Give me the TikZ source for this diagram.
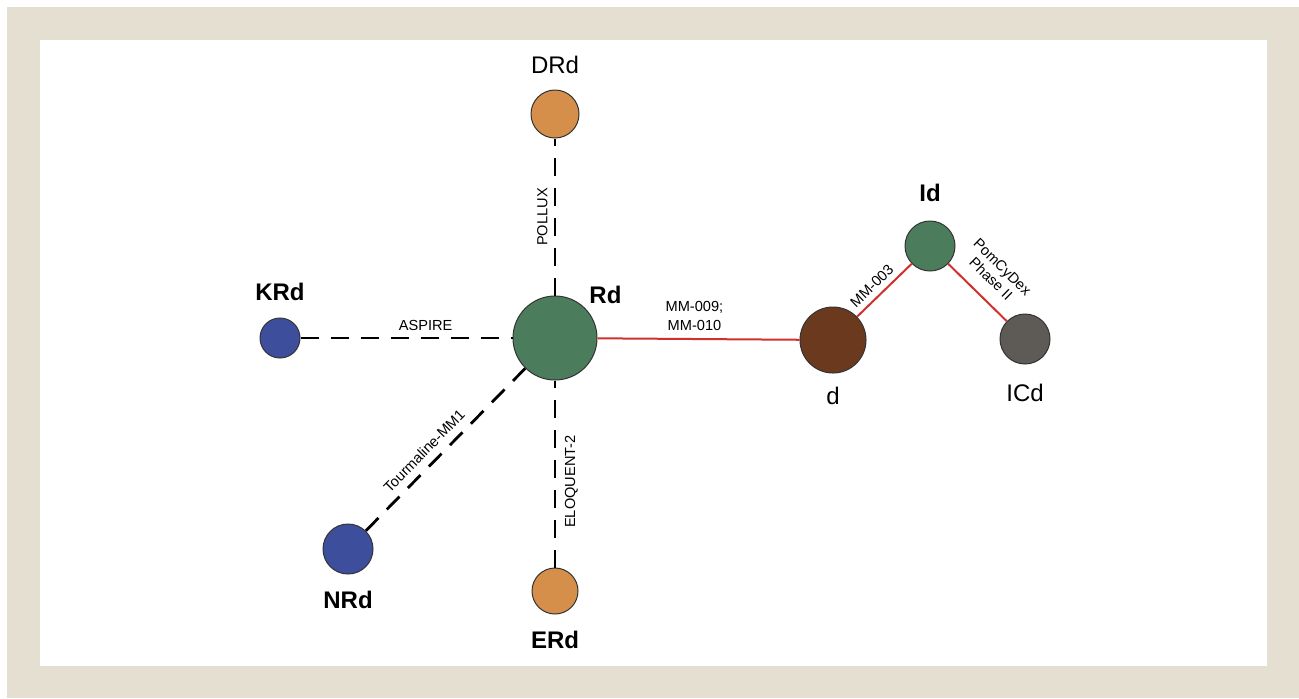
\documentclass[tikz,border=0pt]{standalone}
\usepackage{fontspec}
\setmainfont{Liberation Sans}
\usetikzlibrary{positioning}
\definecolor{framebeige}{RGB}{229,223,210}
\definecolor{studygreen}{RGB}{75,125,92}
\definecolor{studyblue}{RGB}{61,79,156}
\definecolor{studyorange}{RGB}{214,142,75}
\definecolor{studybrown}{RGB}{107,58,30}
\definecolor{studygrey}{RGB}{94,90,86}
\definecolor{approvedred}{RGB}{208,49,45}

\tikzset{
    study/.style={circle,draw=black!80,line width=0.5pt,inner sep=0pt},
    tag/.style={inner sep=0pt,font=\fontsize{12}{14}\selectfont},
    boldtag/.style={tag,font=\fontsize{12}{14}\selectfont\bfseries},
    trial/.style={line width=1.4pt,dash pattern=on 9pt off 6pt},
    approved/.style={draw=approvedred,line width=1pt},
    trialname/.style={font=\fontsize{7.3}{9.5}\selectfont,inner sep=1.5pt,align=center}
}

\begin{document}
\begin{tikzpicture}[x=0.5pt,y=-0.5pt]
    \useasboundingbox (0,0) rectangle (1299,698);
    \fill[framebeige] (7,7) rectangle (1299,698);
    \fill[white] (40,40) rectangle (1267,666);

    % studies
    \node[study,fill=studygreen,minimum size=42pt] (rd) at (555,338) {};
    \node[study,fill=studyblue,minimum size=20pt] (krd) at (280,338) {};
    \node[study,fill=studyblue,minimum size=25pt] (nrd) at (348,549) {};
    \node[study,fill=studyorange,minimum size=23pt] (erd) at (555,591) {};
    \node[study,fill=studyorange,minimum size=24pt] (drd) at (555,114) {};
    \node[study,fill=studybrown,minimum size=33pt] (d) at (833,340) {};
    \node[study,fill=studygreen,minimum size=25pt] (id) at (930,246) {};
    \node[study,fill=studygrey,minimum size=25pt] (icd) at (1025,339) {};

    % names
    \node[boldtag,above right=2pt and 2pt of rd] (rdtag) {Rd};
    \node[boldtag,above=8pt of krd] (krdtag) {KRd};
    \node[boldtag,below=8pt of nrd] (nrdtag) {NRd};
    \node[boldtag,below=8pt of erd] (erdtag) {ERd};
    \node[tag,above=7.5pt of drd] (drdtag) {DRd};
    \node[tag,below=6.5pt of d] (dtag) {d};
    \node[boldtag,above=9pt of id] (idtag) {Id};
    \node[tag,below=9.5pt of icd] (icdtag) {ICd};

    % trials
    \draw[trial] (krd) -- node[trialname,pos=0.59,above=1.7pt] (aspire) {ASPIRE} (rd);
    \draw[trial] (rd) -- node[trialname,pos=0.5,sloped,above=1.5pt] (pollux) {POLLUX} (drd);
    \draw[trial] (erd) -- node[trialname,pos=0.46,sloped,below=2.8pt] (eloquent) {ELOQUENT-2} (rd);
    \draw[trial] (nrd) -- node[trialname,pos=0.43,sloped,above=2.3pt] (tourmaline) {Tourmaline-MM1} (rd);
    \draw[approved] (rd) -- node[trialname,pos=0.48,above=2.3pt] (mmnine) {MM-009;\\MM-010} (d);
    \draw[approved] (d) -- node[trialname,pos=0.42,sloped,above=1.3pt] (mmthree) {MM-003} (id);
    \draw[approved] (id) -- node[trialname,pos=0.5,sloped,above=5pt,font=\fontsize{7.3}{8.2}\selectfont] (pomcydex) {PomCyDex\\Phase II} (icd);
\end{tikzpicture}
\end{document}
